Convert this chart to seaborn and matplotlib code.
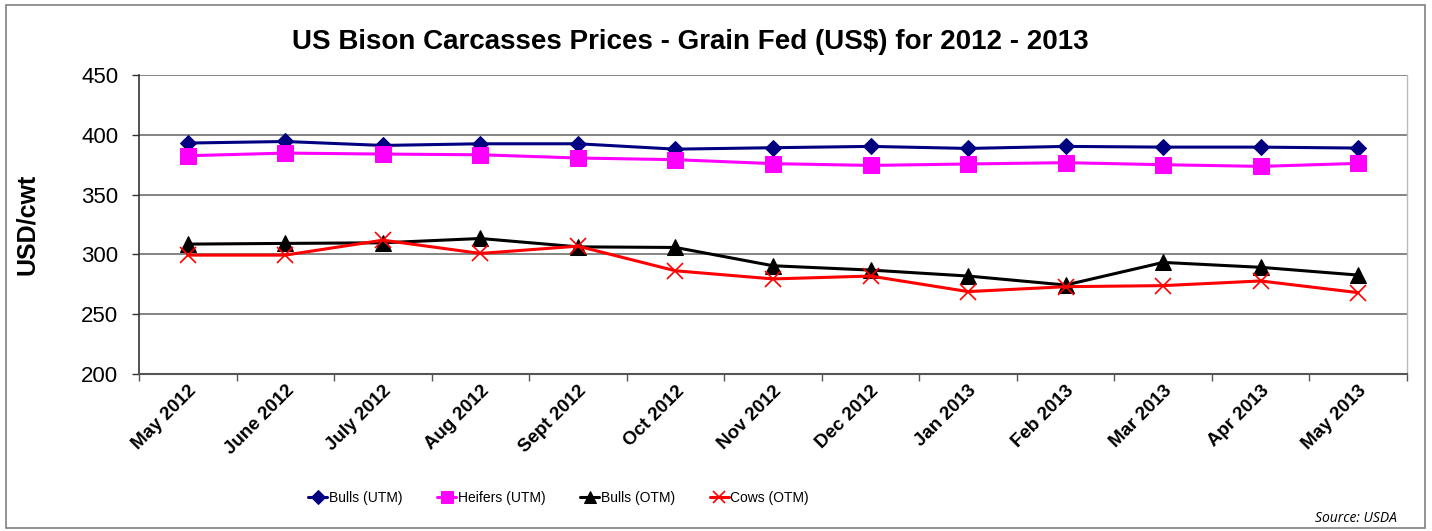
import numpy as np
import pandas as pd
import matplotlib
matplotlib.use("Agg")
import matplotlib.pyplot as plt
import seaborn as sns
from matplotlib.patches import Rectangle

months = ["May 2012", "June 2012", "July 2012", "Aug 2012", "Sept 2012", "Oct 2012",
          "Nov 2012", "Dec 2012", "Jan 2013", "Feb 2013", "Mar 2013", "Apr 2013", "May 2013"]
bulls_utm = [393.1, 394.4, 391.1, 392.5, 392.5, 388.0, 389.2, 390.3, 388.6, 390.3, 389.7, 389.7, 388.9]
heifers_utm = [382.5, 384.7, 383.9, 383.3, 380.6, 379.2, 375.9, 374.4, 375.6, 376.7, 375.0, 373.6, 376.1]
bulls_otm = [308.6, 309.2, 309.7, 313.3, 306.3, 305.8, 290.5, 286.9, 281.9, 274.4, 293.3, 289.2, 282.7]
cows_otm = [299.4, 299.4, 311.9, 300.8, 306.9, 286.3, 279.5, 281.9, 268.9, 273.0, 273.9, 277.8, 268.0]
series_names = ["Bulls (UTM)", "Heifers (UTM)", "Bulls (OTM)", "Cows (OTM)"]
yticks = [200, 250, 300, 350, 400, 450]

sns.set_theme(style="white")
plt.rcParams['font.family'] = ['Liberation Sans', 'DejaVu Sans']
plt.rcParams['text.color'] = 'black'
plt.rcParams['axes.labelcolor'] = 'black'
plt.rcParams['xtick.color'] = 'black'
plt.rcParams['ytick.color'] = 'black'

fig = plt.figure(figsize=(14.32, 5.31), dpi=100)
ax = fig.add_axes([139/1432, 1-374/531, (1407-139)/1432, (374-75)/531])

idx = np.arange(len(months))
styles = [
    dict(color="#000080", marker="D", markersize=8.5, mec="#000080"),
    dict(color="#FF00FF", marker="s", markersize=11, mec="#FF00FF"),
    dict(color="#000000", marker="^", markersize=11, mec="#000000"),
    dict(color="#FF0000", marker="x", markersize=11, mew=1.2, mec="#FF0000"),
]
for name, vals, st in zip(series_names, [bulls_utm, heifers_utm, bulls_otm, cows_otm], styles):
    sns.lineplot(x=idx, y=vals, ax=ax, label=name, linewidth=2.2, sort=False, **st)

ax.set_xlim(-0.5, len(months) - 0.5)
ax.set_ylim(200, 450)
ax.set_yticks(yticks)
ax.set_yticklabels([str(v) for v in yticks], fontsize=16)
ax.set_xticks(idx)
ax.set_xticklabels(months, rotation=45, ha="right", rotation_mode="anchor",
                   fontsize=13.5, fontweight="bold")
ax.set_xticks(np.arange(-0.5, len(months)), minor=True)
ax.tick_params(axis="x", which="major", length=0, pad=6)
ax.tick_params(axis="x", which="minor", length=5, width=1, color="#555555", direction="out", bottom=True)
ax.tick_params(axis="y", which="major", length=5, width=1, color="#333333", direction="out", left=True, pad=10)
ax.grid(axis="y", color="#707070", linewidth=1.2)
ax.set_axisbelow(True)
ax.spines["left"].set_color("#333333")
ax.spines["left"].set_linewidth(1.2)
ax.spines["bottom"].set_color("#555555")
ax.spines["bottom"].set_linewidth(1.5)
ax.spines["top"].set_visible(False)
ax.spines["right"].set_color("#bbbbbb")
ax.spines["right"].set_linewidth(1)
ax.set_xlabel("")
ax.set_ylabel("USD/cwt", fontsize=18, fontweight="bold")
ax.yaxis.set_label_coords(-0.079, 0.5)

leg_fs = 10
ax.legend(loc="center", bbox_to_anchor=(0.331, -0.415), ncol=4, frameon=False,
          prop={"size": leg_fs},
          handlelength=19/1.389/leg_fs, handletextpad=0.1, columnspacing=35/1.389/leg_fs,
          markerscale=0.8)

fig.text(690/1432, 1-42/531, "US Bison Carcasses Prices - Grain Fed (US$) for 2012 - 2013",
         ha="center", va="center", fontsize=20, fontweight="bold")
fig.text(1397/1432, 1-518/531, "Source: USDA", ha="right", va="center",
         fontsize=10, style="italic", family=["Open Sans", "DejaVu Sans"])
fig.patches.append(Rectangle((6/1432, 1-528/531), (1425-6)/1432, (528-5)/531,
                             transform=fig.transFigure, fill=False,
                             edgecolor="#808080", linewidth=1.2))

fig.savefig("out.png", dpi=100)
